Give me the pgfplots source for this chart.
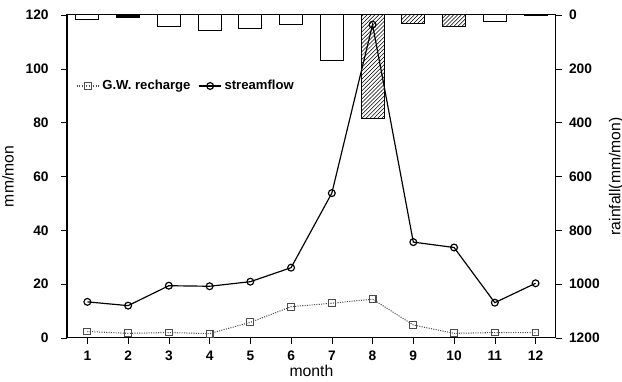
\documentclass[border=0pt]{standalone}
\usepackage{pgfplots}
\pgfplotsset{compat=1.18}
\usetikzlibrary{patterns}
\usepackage{fontspec}
\setmainfont{Liberation Sans}
\begin{document}
\begin{tikzpicture}
\pgfplotsset{every axis/.append style={
  width=373pt, height=246.4pt, scale only axis,
  xmin=0.5, xmax=12.5,
  tick label style={font=\fontsize{10.5}{12}\selectfont\bfseries},
  /pgf/number format/assume math mode=true,
  /pgf/number format/1000 sep={},
  tick style={black, thin}, line width=0.8pt}}
% rainfall bars on the right axis (reversed)
\begin{axis}[
  axis y line*=right, axis x line=none,
  y dir=reverse, ymin=0, ymax=1200,
  ytick={0,200,400,600,800,1000,1200},
  ylabel={rainfall(mm/mon)},
  ylabel style={font=\fontsize{12}{14}\selectfont},
  ybar, bar width=17.6pt, bar shift=0pt,
  ytick align=outside, ytick pos=right,
  yticklabel style={xshift=2pt},
]
\addplot[draw=black, fill=white, line width=0.8pt] coordinates {
 (1,16) (3,43) (4,59) (5,52) (6,35) (7,171) (11,25) (12,3)};
\addplot[draw=black, fill=black, line width=0.8pt] coordinates {(2,10)};
\addplot[draw=black, pattern=north east lines, line width=0.8pt] coordinates {
 (8,386) (9,31) (10,43)};
\end{axis}
\begin{axis}[
  name=main,
  axis lines=box, ytick pos=left, xtick pos=bottom,
  ymin=0, ymax=120,
  ytick={0,20,40,60,80,100,120},
  xtick={1,...,12},
  ylabel={mm/mon}, xlabel={month},
  ylabel style={yshift=2pt, font=\fontsize{12}{14}\selectfont},
  xlabel style={yshift=4pt, font=\fontsize{12}{14}\selectfont},
  xtick align=outside, ytick align=outside,
  yticklabel style={xshift=-6pt},
  xticklabel style={yshift=-2pt},
  legend style={draw=none, fill=none, at={(0.01,0.78)}, anchor=west,
    legend columns=2, font=\fontsize{10}{11}\selectfont\bfseries,
    /tikz/every even column/.append style={column sep=4pt}},
]
\addplot[black!70, densely dotted, line width=0.8pt, mark=square, mark size=2.6pt, mark options={solid}] coordinates {
 (1,2.4) (2,1.7) (3,2.0) (4,1.6) (5,5.8) (6,11.6) (7,12.9) (8,14.4) (9,4.8) (10,1.7) (11,2.0) (12,2.0)};
\addlegendentry{G.W. recharge}
\addplot[black, line width=0.9pt, mark=o, mark size=2.6pt] coordinates {
 (1,13.4) (2,12.0) (3,19.4) (4,19.2) (5,20.9) (6,26.1) (7,53.8) (8,116.4) (9,35.6) (10,33.6) (11,13.1) (12,20.3)};
\addlegendentry{streamflow}
\end{axis}
\pgfresetboundingbox
\path ([shift={(-51.1pt,-33.6pt)}]main.south west) rectangle ([shift={(50.4pt,11.4pt)}]main.north east);
\end{tikzpicture}
\end{document}
